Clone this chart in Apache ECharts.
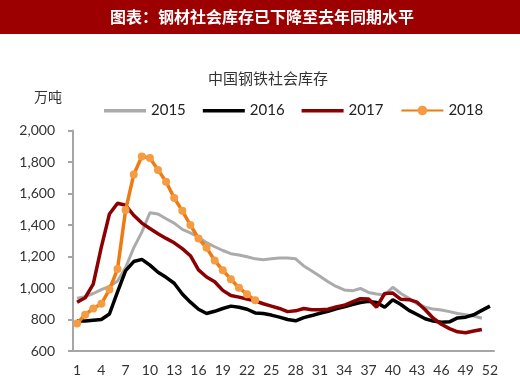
<!DOCTYPE html>
<html><head><meta charset="utf-8">
<script src="https://cdn.jsdelivr.net/npm/echarts@6/dist/echarts.min.js"></script>
<style>html,body{margin:0;padding:0;background:#fff}#c{width:520px;height:391px}</style>
</head><body><div id="c"></div>
<script>
var categories = ['1','2','3','4','5','6','7','8','9','10','11','12','13','14','15','16','17','18','19','20','21','22','23','24','25','26','27','28','29','30','31','32','33','34','35','36','37','38','39','40','41','42','43','44','45','46','47','48','49','50','51','52'];
var s2015 = [935,945,965,990,1010,1045,1130,1255,1355,1478,1470,1440,1412,1372,1350,1322,1288,1262,1238,1218,1210,1198,1185,1180,1185,1190,1190,1185,1140,1108,1075,1040,1010,988,982,997,972,962,956,1005,965,935,900,878,866,860,850,838,830,822,808];
var s2016 = [790,790,795,800,835,975,1110,1168,1182,1145,1100,1068,1030,962,910,865,838,852,870,885,878,865,842,838,828,815,800,792,812,825,840,852,868,880,895,908,915,908,878,925,895,858,832,805,790,782,785,810,815,830,858,885];
var s2017 = [910,938,1025,1260,1470,1538,1525,1462,1412,1378,1345,1315,1287,1250,1205,1115,1070,1040,985,952,942,930,918,900,885,870,850,855,870,862,862,865,880,890,912,932,930,878,965,968,928,926,910,862,808,770,742,722,716,727,737];
var s2018 = [775,830,870,900,990,1120,1495,1720,1835,1825,1750,1675,1572,1490,1400,1315,1255,1175,1112,1056,1002,960,922];
var yTicks = {min:600, max:2000, step:200};
var headerText = '图表：钢材社会库存已下降至去年同期水平';
var chartTitle = '中国钢铁社会库存';
var unitText = '万吨';

var chart = echarts.init(document.getElementById('c'), null, {renderer:'canvas'});
var numFont = 'Lato, "Open Sans", sans-serif';
var cjk = '"Noto Sans CJK SC", sans-serif';
var lineIcon = 'path://M0,0 L0,12 M0,4.5 L42,4.5 L42,8 L0,8 Z';
chart.setOption({
  animation:false,
  backgroundColor:'#fff',
  graphic:[
    {type:'rect', shape:{x:0,y:0,width:520,height:34}, style:{fill:'#9c0000'}},
    {type:'text', x:262, y:17, style:{text:headerText, fill:'#fff', font:'bold 16px '+cjk, align:'center', verticalAlign:'middle'}},
    {type:'text', x:268, y:78, style:{text:chartTitle, fill:'#333', font:'15px '+cjk, align:'center', verticalAlign:'middle'}},
    {type:'text', x:48, y:97, style:{text:unitText, fill:'#333', font:'14px '+cjk, align:'center', verticalAlign:'middle'}}
  ],
  legend:{
    left:99, top:98, itemWidth:42, itemHeight:12, itemGap:17,
    textStyle:{fontFamily:numFont, fontSize:15, color:'#222'},
    data:[{name:'2015', icon:lineIcon},{name:'2016', icon:lineIcon},{name:'2017', icon:lineIcon},{name:'2018'}]
  },
  grid:{left:73, right:26, top:130.5, bottom:40},
  xAxis:{
    type:'category', data:categories, boundaryGap:true,
    axisLine:{lineStyle:{color:'#a6a6a6', width:2}},
    axisTick:{interval:3, length:5, lineStyle:{color:'#a6a6a6', width:2}},
    axisLabel:{interval:2, fontFamily:numFont, fontSize:14, color:'#333', margin:12}
  },
  yAxis:{
    type:'value', min:yTicks.min, max:yTicks.max, interval:yTicks.step,
    splitLine:{show:false},
    axisLine:{show:true, lineStyle:{color:'#a6a6a6', width:2}},
    axisTick:{show:true, length:5, lineStyle:{color:'#a6a6a6', width:2}},
    axisLabel:{fontFamily:numFont, fontSize:14, color:'#333', margin:18,
      formatter:function(v){return v.toLocaleString('en-US');}}
  },
  series:[
    {name:'2015', type:'line', data:s2015, symbol:'none', lineStyle:{color:'#ababab', width:3}, itemStyle:{color:'#ababab'}},
    {name:'2016', type:'line', data:s2016, symbol:'none', lineStyle:{color:'#000', width:3.5}, itemStyle:{color:'#000'}},
    {name:'2017', type:'line', data:s2017, symbol:'none', lineStyle:{color:'#8b0000', width:3.5}, itemStyle:{color:'#8b0000'}},
    {name:'2018', type:'line', data:s2018, symbol:'circle', symbolSize:8, showSymbol:true, showAllSymbol:true,
      lineStyle:{color:'#ee7a12', width:3.5}, itemStyle:{color:'#f59b42', borderWidth:0}}
  ]
});
</script></body></html>
